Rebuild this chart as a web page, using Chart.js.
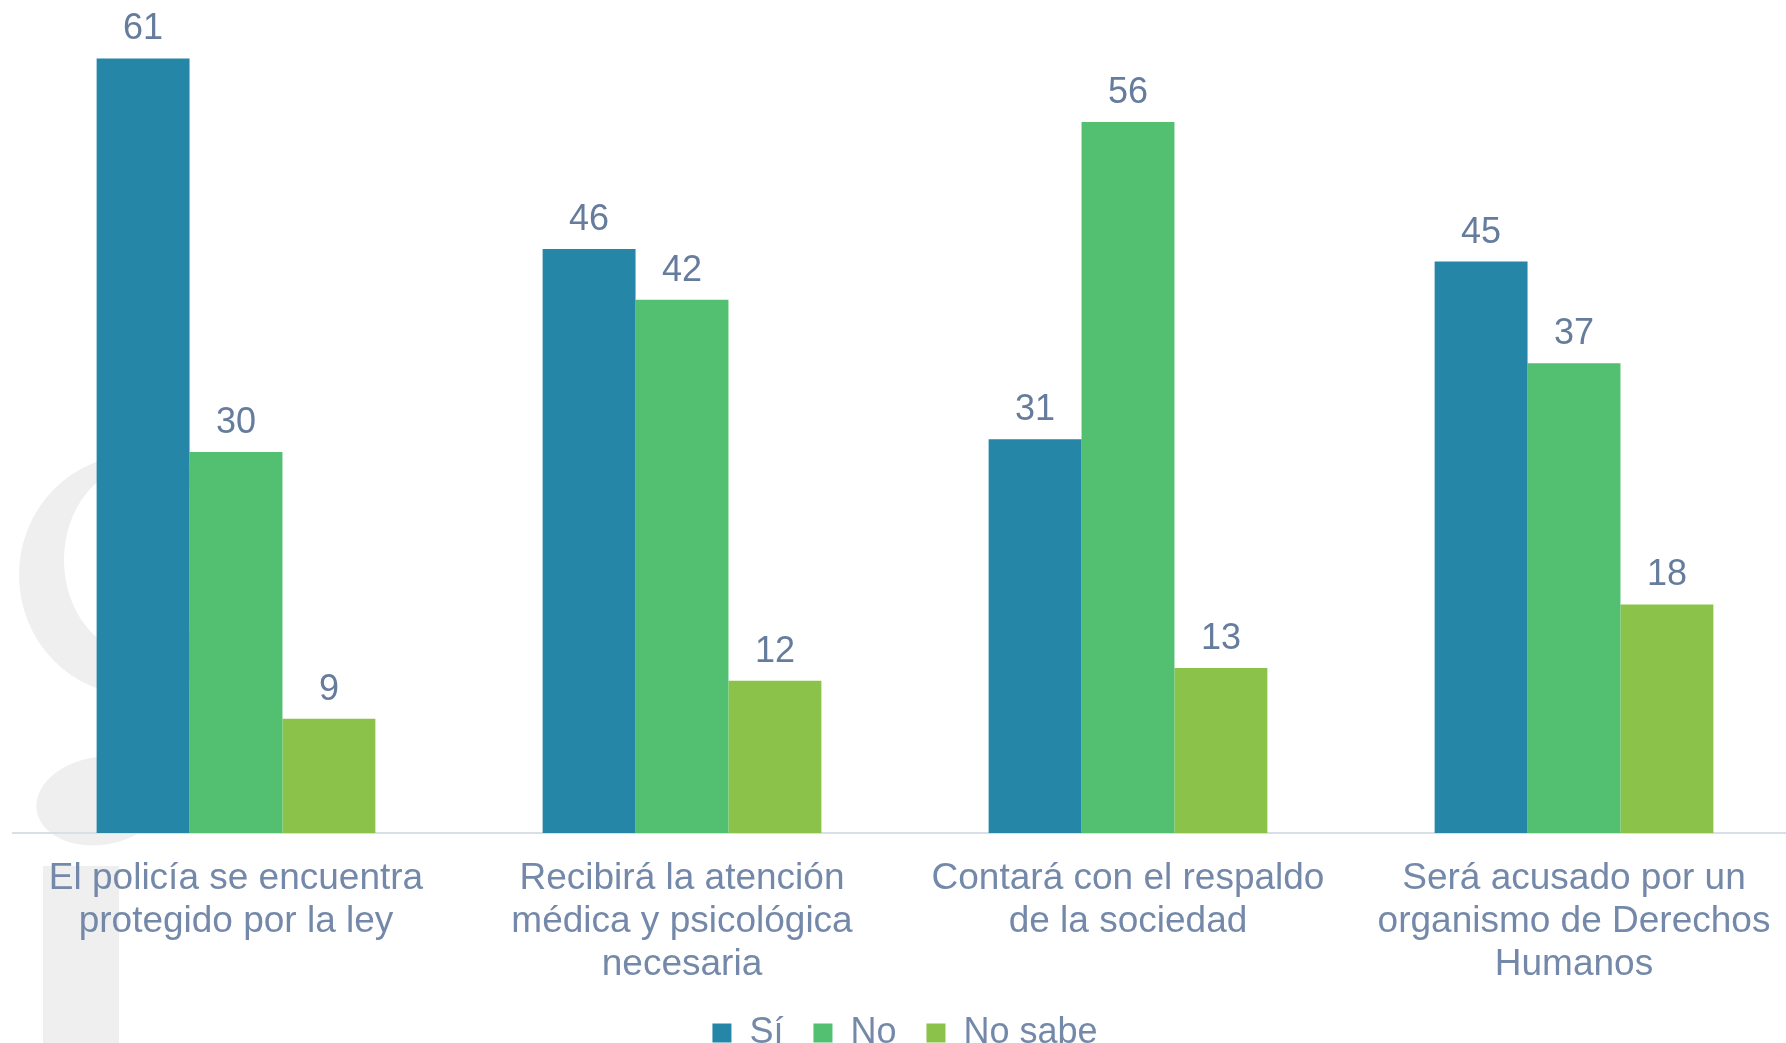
<!DOCTYPE html>
<html lang="es">
<head>
<meta charset="utf-8">
<title>Percepción sobre la actuación policial</title>
<script src="https://cdn.jsdelivr.net/npm/chart.js@4.4.1/dist/chart.umd.min.js"></script>
<style>
  html, body { margin: 0; padding: 0; background: #ffffff; overflow: hidden; }
  #wrap { width: 1800px; height: 1061px; }
</style>
</head>
<body>
<div id="wrap"><canvas id="byAnswer" width="1800" height="1061"></canvas></div>
<script>
/*****************************/
/************DATOS************/
/*****************************/

var categorias = [
  ['El policía se encuentra', 'protegido por la ley'],
  ['Recibirá la atención', 'médica y psicológica', 'necesaria'],
  ['Contará con el respaldo', 'de la sociedad'],
  ['Será acusado por un', 'organismo de Derechos', 'Humanos']
];

var respuestas = ['Sí', 'No', 'No sabe'];

var valoresSi = [61, 46, 31, 45];
var valoresNo = [30, 42, 56, 37];
var valoresNoSabe = [9, 12, 13, 18];

var colores = ['#2586a7', '#53bf71', '#8bc34a'];

var colorTexto = '#7489a9';
var colorEtiqueta = '#667c9c';
var fuente = "'Liberation Sans', Arial, sans-serif";

/*****************************/
/**********PLUGINS************/
/*****************************/

// marca de agua gris a la izquierda (decorativa)
var marcaAgua = {
  id: 'marcaAgua',
  beforeDraw: function (chart) {
    var ctx = chart.ctx;
    ctx.save();
    ctx.fillStyle = '#efefef';

    // arco grande
    ctx.beginPath();
    ctx.ellipse(135, 575, 116, 120, 0, 0, Math.PI * 2);
    ctx.ellipse(140, 560, 76, 94, 0, 0, Math.PI * 2, true);
    ctx.fill('evenodd');

    // gota inferior
    ctx.beginPath();
    ctx.ellipse(100, 801, 64, 44, -0.15, 0, Math.PI * 2);
    ctx.fill();

    // barra vertical
    ctx.fillRect(43, 866, 76, 200);
    ctx.restore();
  }
};

// etiquetas con el valor encima de cada barra
var etiquetasValor = {
  id: 'etiquetasValor',
  afterDatasetsDraw: function (chart) {
    var ctx = chart.ctx;
    ctx.save();
    ctx.font = '36px ' + fuente;
    ctx.fillStyle = colorEtiqueta;
    ctx.textAlign = 'center';
    ctx.textBaseline = 'alphabetic';
    chart.data.datasets.forEach(function (dataset, i) {
      var meta = chart.getDatasetMeta(i);
      meta.data.forEach(function (bar, j) {
        ctx.fillText(dataset.data[j], bar.x, bar.y - 19);
      });
    });
    ctx.restore();
  }
};

/*****************************/
/***********GRAFICO***********/
/*****************************/

var canvas = document.getElementById('byAnswer');

var myBarChart = new Chart(canvas, {
  type: 'bar',
  data: {
    labels: categorias,
    datasets: [
      { label: respuestas[0], data: valoresSi, backgroundColor: colores[0] },
      { label: respuestas[1], data: valoresNo, backgroundColor: colores[1] },
      { label: respuestas[2], data: valoresNoSabe, backgroundColor: colores[2] }
    ]
  },
  options: {
    responsive: false,
    animation: false,
    devicePixelRatio: 1,
    categoryPercentage: 0.625,
    barPercentage: 1,
    layout: { padding: { left: 13, right: 3, top: 0, bottom: 0 } },
    plugins: {
      tooltip: { enabled: false },
      legend: {
        position: 'bottom',
        labels: {
          color: colorTexto,
          font: { family: fuente, size: 36 },
          boxWidth: 19,
          boxHeight: 19,
          padding: 30
        }
      }
    },
    scales: {
      x: {
        grid: { display: false, drawTicks: false },
        border: { display: true, color: '#d9dfe6', width: 2 },
        ticks: {
          color: colorTexto,
          font: { family: fuente, size: 37, lineHeight: 1.162 },
          padding: 24,
          autoSkip: false,
          maxRotation: 0
        },
        // acerco la leyenda a las etiquetas del eje
        afterFit: function (scale) {
          scale.height = scale.height - 25;
        }
      },
      y: {
        display: false,
        min: 0,
        max: 65.6
      }
    }
  },
  plugins: [marcaAgua, etiquetasValor]
});
</script>
</body>
</html>
